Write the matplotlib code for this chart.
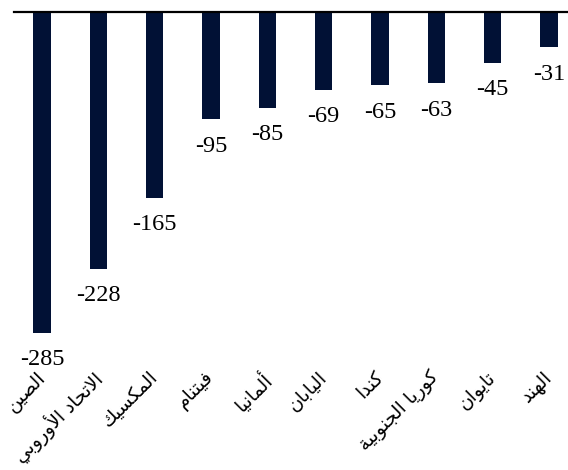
import matplotlib
matplotlib.use("Agg")
import matplotlib.pyplot as plt

# Datos del gráfico
categorias = ["الصين", "الاتحاد الأوروبي", "المكسيك", "فيتنام", "ألمانيا",
              "اليابان", "كندا", "كوريا الجنوبية", "تايوان", "الهند"]
valores = [-285, -228, -165, -95, -85, -69, -65, -63, -45, -31]

# Formas de presentación árabes: (aislada, final, inicial, medial)
FORMAS = {
    "ا": (0xFE8D, 0xFE8E, None, None),
    "أ": (0xFE83, 0xFE84, None, None),
    "ب": (0xFE8F, 0xFE90, 0xFE91, 0xFE92),
    "ة": (0xFE93, 0xFE94, None, None),
    "ت": (0xFE95, 0xFE96, 0xFE97, 0xFE98),
    "ج": (0xFE9D, 0xFE9E, 0xFE9F, 0xFEA0),
    "ح": (0xFEA1, 0xFEA2, 0xFEA3, 0xFEA4),
    "د": (0xFEA9, 0xFEAA, None, None),
    "ر": (0xFEAD, 0xFEAE, None, None),
    "س": (0xFEB1, 0xFEB2, 0xFEB3, 0xFEB4),
    "ص": (0xFEB9, 0xFEBA, 0xFEBB, 0xFEBC),
    "ف": (0xFED1, 0xFED2, 0xFED3, 0xFED4),
    "ك": (0xFED9, 0xFEDA, 0xFEDB, 0xFEDC),
    "ل": (0xFEDD, 0xFEDE, 0xFEDF, 0xFEE0),
    "م": (0xFEE1, 0xFEE2, 0xFEE3, 0xFEE4),
    "ن": (0xFEE5, 0xFEE6, 0xFEE7, 0xFEE8),
    "ه": (0xFEE9, 0xFEEA, 0xFEEB, 0xFEEC),
    "و": (0xFEED, 0xFEEE, None, None),
    "ي": (0xFEF1, 0xFEF2, 0xFEF3, 0xFEF4),
    "لا": (0xFEFB, 0xFEFC, None, None),
    "لأ": (0xFEF7, 0xFEF8, None, None),
}


def dar_forma(texto):
    """Une las letras árabes y las pone en orden visual (izquierda a derecha)."""
    letras = []
    i = 0
    while i < len(texto):
        if texto[i] == "ل" and i + 1 < len(texto) and texto[i + 1] in "اأ":
            letras.append(texto[i:i + 2])
            i += 2
        else:
            letras.append(texto[i])
            i += 1
    salida = []
    for k, c in enumerate(letras):
        if c not in FORMAS:
            salida.append(c)
            continue
        iso, fin, ini, med = FORMAS[c]
        prev = letras[k - 1] if k > 0 else None
        sig = letras[k + 1] if k + 1 < len(letras) else None
        une_prev = prev in FORMAS and FORMAS[prev][2] is not None
        une_sig = sig in FORMAS and ini is not None
        if une_prev and une_sig:
            g = med
        elif une_prev:
            g = fin
        elif une_sig:
            g = ini
        else:
            g = iso
        salida.append(chr(g))
    return "".join(reversed(salida))


fig = plt.figure(figsize=(5.68, 4.70), dpi=100)
ax = fig.add_axes([14 / 568, 0, 554 / 568, 458 / 470])

x = list(range(len(valores)))
ax.bar(x, valores, width=0.31, color="#011135")
ax.axhline(0, color="black", lw=1.6, clip_on=False)

for xi, v in zip(x, valores):
    ax.annotate(f"{v}", (xi, v), xytext=(0, -12), textcoords="offset points",
                ha="center", va="top", fontsize=17.5, family="Liberation Serif")

# Etiquetas de categoría, giradas 45 grados
for xi, cat in zip(x, categorias):
    ax.text(xi - 0.12, -316, dar_forma(cat), rotation=45, rotation_mode="anchor",
            ha="right", va="top", fontsize=13.5, family="DejaVu Sans")

ax.set_xlim(-0.5, 9.34)
ax.set_ylim(-407, 0)
ax.axis("off")

fig.savefig("out.png", dpi=100)
